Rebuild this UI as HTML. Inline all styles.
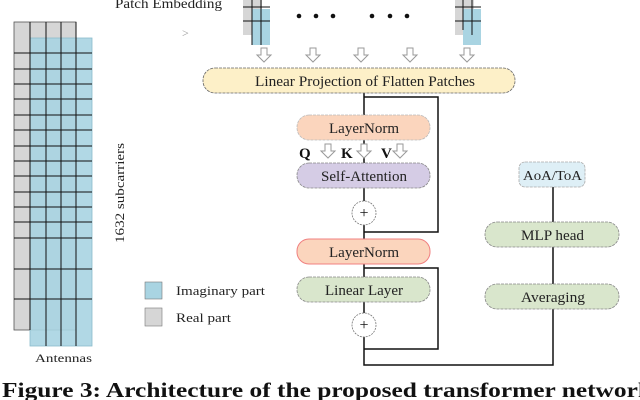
<!DOCTYPE html>
<html><head><meta charset="utf-8"><style>
html,body{margin:0;padding:0;background:#fff;}
svg{display:block;font-family:"Liberation Serif",serif;}
</style></head><body>
<svg width="640" height="400" viewBox="0 0 640 400" xmlns="http://www.w3.org/2000/svg">
<defs>
<g id="harrow"><path d="M-3,0 V7 H-7 L0,14 L7,7 H3 V0 Z" fill="#fff" stroke="#999" stroke-width="1"/></g>
</defs>
<rect x="14" y="22" width="62" height="308" fill="#d6d6d6" stroke="#555" stroke-width="0.8"/>
<rect x="30" y="38" width="62" height="308" fill="#a9d4e2" opacity="0.9"/>
<rect x="30" y="38" width="62" height="308" fill="none" stroke="#8bbccc" stroke-width="0.8"/>
<g stroke="#111" stroke-width="1">
<line x1="30" y1="22" x2="30" y2="330"/>
<line x1="46" y1="22" x2="46" y2="346"/>
<line x1="61" y1="22" x2="61" y2="346"/>
<line x1="76" y1="22" x2="76" y2="346"/>
<line x1="14" y1="53" x2="92" y2="53"/><line x1="14" y1="69" x2="92" y2="69"/>
<line x1="14" y1="84" x2="92" y2="84"/><line x1="14" y1="99" x2="92" y2="99"/>
<line x1="14" y1="115" x2="92" y2="115"/><line x1="14" y1="130" x2="92" y2="130"/>
<line x1="14" y1="146" x2="92" y2="146"/><line x1="14" y1="161" x2="92" y2="161"/>
<line x1="14" y1="176" x2="92" y2="176"/><line x1="14" y1="192" x2="92" y2="192"/>
<line x1="14" y1="207" x2="92" y2="207"/><line x1="14" y1="222" x2="92" y2="222"/>
<line x1="14" y1="238" x2="92" y2="238"/><line x1="14" y1="269" x2="92" y2="269"/>
<line x1="14" y1="299" x2="92" y2="299"/>
</g>
<text x="120" y="193" font-size="13" text-anchor="middle" transform="rotate(-90 120 193)" dy="4" fill="#222" textLength="100" lengthAdjust="spacingAndGlyphs">1632 subcarriers</text>
<text x="35" y="362" font-size="12" fill="#222" textLength="57" lengthAdjust="spacingAndGlyphs">Antennas</text>
<rect x="145" y="282" width="17" height="17" fill="#a9d4e2" stroke="#777" stroke-width="0.6"/>
<rect x="145" y="308" width="17" height="18" fill="#d6d6d6" stroke="#777" stroke-width="0.6"/>
<text x="176" y="295" font-size="13" fill="#222" textLength="89" lengthAdjust="spacingAndGlyphs">Imaginary part</text>
<text x="176" y="322" font-size="13" fill="#222" textLength="55" lengthAdjust="spacingAndGlyphs">Real part</text>
<text x="115" y="8" font-size="14" fill="#222" textLength="107" lengthAdjust="spacingAndGlyphs">Patch Embedding</text>
<text x="182" y="37" font-size="12" fill="#999">&gt;</text>
<g>
<rect x="243" y="-5" width="19" height="40" fill="#d6d6d6"/>
<rect x="252" y="9" width="18" height="36" fill="#a9d4e2"/>
<g stroke="#111" stroke-width="1"><line x1="252" y1="-5" x2="252" y2="45"/><line x1="261" y1="-5" x2="261" y2="45"/><line x1="243" y1="7" x2="270" y2="7"/><line x1="243" y1="21" x2="270" y2="21"/></g>
</g>
<g>
<rect x="455" y="-5" width="19" height="40" fill="#d6d6d6"/>
<rect x="463" y="9" width="18" height="36" fill="#a9d4e2"/>
<g stroke="#111" stroke-width="1"><line x1="463" y1="-5" x2="463" y2="30"/><line x1="472" y1="-5" x2="472" y2="35"/><line x1="455" y1="7" x2="481" y2="7"/><line x1="455" y1="21" x2="481" y2="21"/></g>
</g>
<g fill="#111"><circle cx="299" cy="16" r="2.3"/><circle cx="316" cy="16" r="2.3"/><circle cx="333" cy="16" r="2.3"/><circle cx="372" cy="16" r="2.3"/><circle cx="390" cy="16" r="2.3"/><circle cx="407" cy="16" r="2.3"/></g>
<use href="#harrow" x="264" y="48"/><use href="#harrow" x="313" y="48"/><use href="#harrow" x="361" y="48"/><use href="#harrow" x="410" y="48"/><use href="#harrow" x="467" y="48"/>
<g stroke="#111" stroke-width="1.5" fill="none">
<path d="M364,93 V115"/>
<path d="M364,97 H438 V232 H364"/>
<path d="M364,140 V163"/>
<path d="M364,188 V239"/>
<path d="M364,264 V277"/>
<path d="M364,268 H438 V349 H364"/>
<path d="M364,302 V365 H553 V187"/>
</g>
<rect x="203" y="68" width="312" height="25" rx="12" fill="#fdf0c8" stroke="#666" stroke-width="0.8" stroke-dasharray="3,1"/>
<text x="255" y="86" font-size="14.5" fill="#222" textLength="220" lengthAdjust="spacingAndGlyphs">Linear Projection of Flatten Patches</text>
<rect x="297" y="115" width="133" height="25" rx="12" fill="#fbd5bd" stroke="#bbb" stroke-width="0.8" stroke-dasharray="3,1"/>
<text x="329" y="133" font-size="14.5" fill="#222" textLength="70" lengthAdjust="spacingAndGlyphs">LayerNorm</text>
<text x="299" y="158" font-size="15" font-weight="bold" fill="#111">Q</text>
<use href="#harrow" x="328" y="144"/>
<text x="341" y="158" font-size="15" font-weight="bold" fill="#111">K</text>
<use href="#harrow" x="364" y="144"/>
<text x="381" y="158" font-size="15" font-weight="bold" fill="#111">V</text>
<use href="#harrow" x="400" y="144"/>
<rect x="297" y="163" width="133" height="25" rx="12" fill="#d5cce5" stroke="#888" stroke-width="0.8" stroke-dasharray="3,1"/>
<text x="321" y="181" font-size="14.5" fill="#222" textLength="86" lengthAdjust="spacingAndGlyphs">Self-Attention</text>
<circle cx="364" cy="213" r="12" fill="#fff" stroke="#777" stroke-width="0.8" stroke-dasharray="2,1"/>
<text x="364" y="218" font-size="16" text-anchor="middle" fill="#111">+</text>
<rect x="297" y="239" width="133" height="25" rx="12" fill="#fbd5bd" stroke="#f08080" stroke-width="1"/>
<text x="329" y="257" font-size="14.5" fill="#222" textLength="70" lengthAdjust="spacingAndGlyphs">LayerNorm</text>
<rect x="297" y="277" width="133" height="25" rx="12" fill="#d9e6cc" stroke="#888" stroke-width="0.8" stroke-dasharray="3,1"/>
<text x="325" y="295" font-size="14.5" fill="#222" textLength="78" lengthAdjust="spacingAndGlyphs">Linear Layer</text>
<circle cx="364" cy="325" r="12" fill="#fff" stroke="#777" stroke-width="0.8" stroke-dasharray="2,1"/>
<text x="364" y="330" font-size="16" text-anchor="middle" fill="#111">+</text>
<rect x="519" y="162" width="66" height="25" rx="6" fill="#deeff6" stroke="#aaa" stroke-width="0.8" stroke-dasharray="3,1"/>
<text x="523" y="180" font-size="14" fill="#222" textLength="59" lengthAdjust="spacingAndGlyphs">AoA/ToA</text>
<rect x="485" y="222" width="134" height="25" rx="12" fill="#d9e6cc" stroke="#888" stroke-width="0.8" stroke-dasharray="3,1"/>
<text x="521" y="240" font-size="14.5" fill="#222" textLength="63" lengthAdjust="spacingAndGlyphs">MLP head</text>
<rect x="485" y="284" width="134" height="25" rx="12" fill="#d9e6cc" stroke="#888" stroke-width="0.8" stroke-dasharray="3,1"/>
<text x="521" y="302" font-size="14.5" fill="#222" textLength="64" lengthAdjust="spacingAndGlyphs">Averaging</text>
<text x="2" y="397" font-size="21" font-weight="bold" fill="#111" textLength="650" lengthAdjust="spacingAndGlyphs">Figure 3: Architecture of the proposed transformer network</text>
</svg>
</body></html>
